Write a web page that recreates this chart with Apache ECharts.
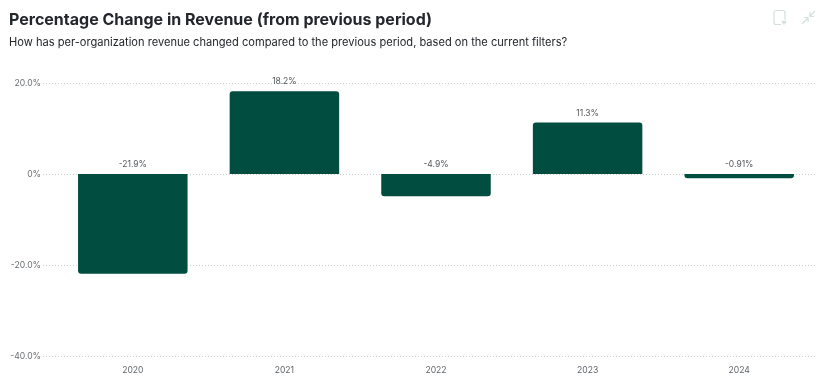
<!DOCTYPE html>
<html><head><meta charset="utf-8">
<script src="https://cdn.jsdelivr.net/npm/echarts@6/dist/echarts.min.js"></script>
<style>html,body{margin:0;padding:0;background:#fff}#c{width:824px;height:385px}</style>
</head><body><div id="c"></div>
<script>
const categories = ['2020','2021','2022','2023','2024'];
const values = [-21.9, 18.2, -4.9, 11.3, -0.91];
const valueLabels = ['-21.9%','18.2%','-4.9%','11.3%','-0.91%'];
const yTicks = {'20':'20.0%','0':'0%','-20':'-20.0%','-40':'-40.0%'};
const FONT = 'Inter';
const chart = echarts.init(document.getElementById('c'), null, {renderer:'canvas'});
const gridTop = 83, gridBottom = 29;
const barData = values.map(v => ({value:v, itemStyle:{borderRadius: v < 0 ? [0,0,3,3] : [3,3,0,0]}}));
chart.setOption({
  animation:false,
  backgroundColor:'#fff',
  title:[
    {text:'Percentage Change in Revenue (from previous period)',left:9,top:12,padding:0,
     textStyle:{fontFamily:FONT,fontSize:16,fontWeight:700,color:'#23272b'}},
    {text:'How has per-organization revenue changed compared to the previous period, based on the current filters?',left:9,top:37,padding:0,
     textStyle:{fontFamily:FONT,fontSize:11.1,fontWeight:400,color:'#23272b'}}
  ],
  grid:[
    {left:43,right:9,top:gridTop,bottom:gridBottom},
    {left:57,right:9,top:gridTop,bottom:gridBottom}
  ],
  xAxis:[
    {gridIndex:0,type:'category',data:categories,show:false},
    {gridIndex:1,type:'category',data:categories,
     axisLine:{show:false},axisTick:{show:false},
     axisLabel:{fontFamily:FONT,fontSize:8.6,color:'#5f6368',margin:10}}
  ],
  yAxis:[
    {gridIndex:0,type:'value',min:-40,max:20,interval:20,
     axisLine:{show:false},axisTick:{show:false},
     axisLabel:{fontFamily:FONT,fontSize:8.6,color:'#6a6e71',margin:2,formatter:v=>yTicks[String(v)]},
     splitLine:{show:true,lineStyle:{type:[1,2],color:'#c8d3d0',width:1}}},
    {gridIndex:1,type:'value',min:-40,max:20,interval:20,show:false,splitLine:{show:false}}
  ],
  series:[{
    type:'bar',xAxisIndex:1,yAxisIndex:1,data:barData,barWidth:109.5,
    itemStyle:{color:'#014d40'},
    label:{show:true,position:'top',distance:5,fontFamily:FONT,fontSize:8.5,color:'#55595c',
      formatter:p=>valueLabels[p.dataIndex]}
  }],
  graphic:[
    {type:'rect',shape:{x:774,y:10.5,width:11,height:14,r:2},style:{fill:'none',stroke:'#d3e0dd',lineWidth:1.2}},
    {type:'rect',shape:{x:781,y:20,width:5,height:5},style:{fill:'#fff'}},
    {type:'polygon',shape:{points:[[781,21],[787,21],[784,25]]},style:{fill:'#d3e0dd'}},
    {type:'polyline',shape:{points:[[802,24],[808,18]]},style:{stroke:'#d3e0dd',lineWidth:1.2,fill:'none'}},
    {type:'polyline',shape:{points:[[810,16],[815,11]]},style:{stroke:'#d3e0dd',lineWidth:1.2,fill:'none'}},
    {type:'polyline',shape:{points:[[804,17.5],[808,17.5],[808,22]]},style:{stroke:'#d3e0dd',lineWidth:1.2,fill:'none'}},
    {type:'polyline',shape:{points:[[810,12],[810,16.5],[814,16.5]]},style:{stroke:'#d3e0dd',lineWidth:1.2,fill:'none'}}
  ]
});
</script></body></html>
